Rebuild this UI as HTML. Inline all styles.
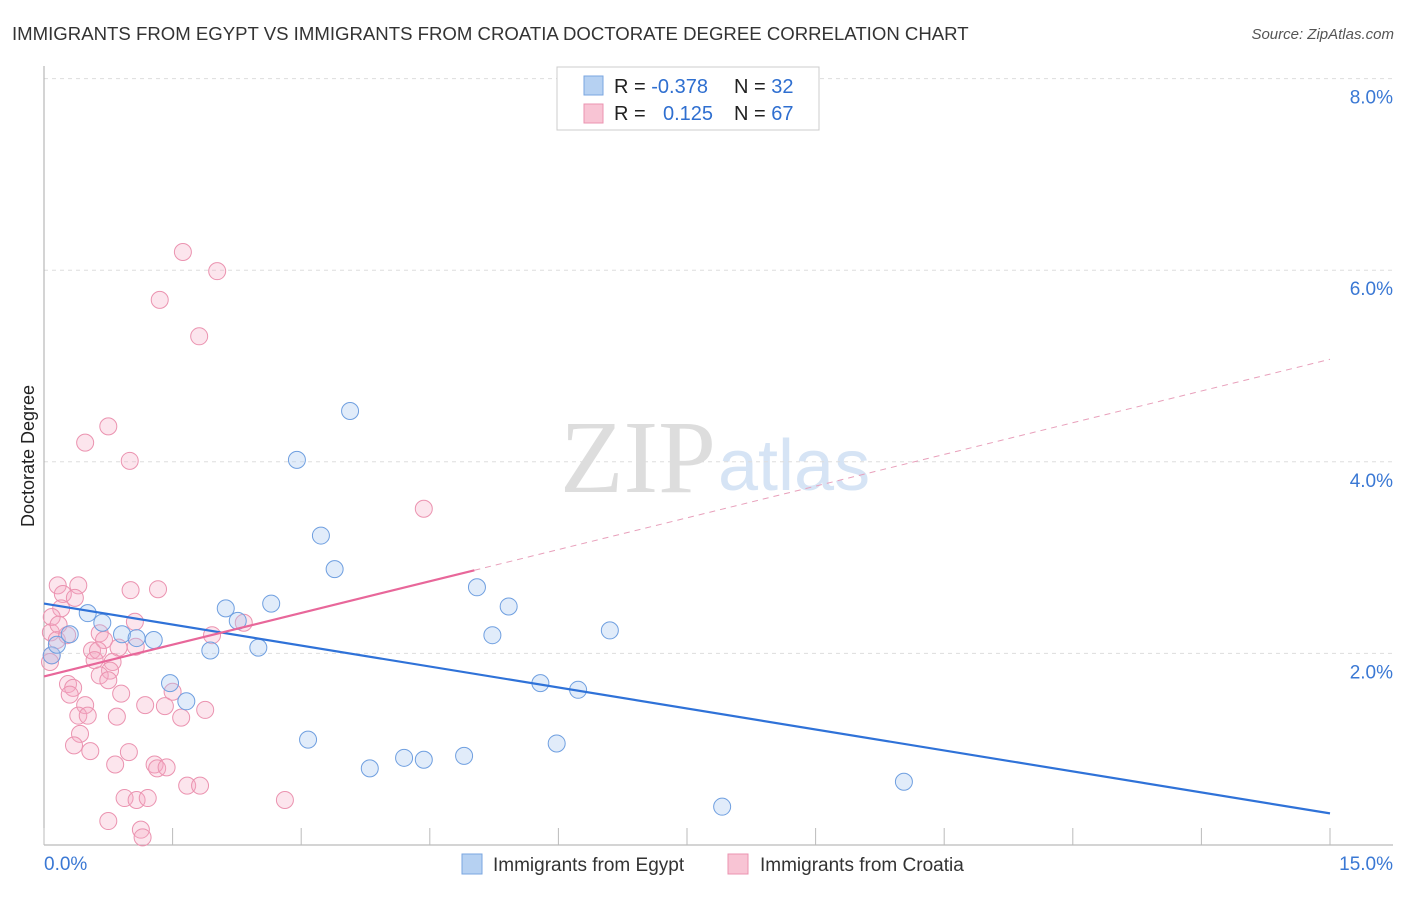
<!DOCTYPE html>
<html><head><meta charset="utf-8"><style>
body{margin:0;background:#fff;font-family:"Liberation Sans",sans-serif}
svg text{font-family:"Liberation Sans",sans-serif}
</style></head><body>
<svg id="c" width="1406" height="892">
<text x="12" y="40" font-size="18.6" fill="#333">IMMIGRANTS FROM EGYPT VS IMMIGRANTS FROM CROATIA DOCTORATE DEGREE CORRELATION CHART</text>
<text x="1394" y="39" font-size="15" fill="#555" font-style="italic" text-anchor="end">Source: ZipAtlas.com</text>
<text x="716" y="492" font-size="104" fill="#ddd" text-anchor="end" style="font-family:'Liberation Serif',serif">ZIP</text>
<text x="718" y="490" font-size="72" fill="#d6e4f5">atlas</text>
<g id="grid"></g>
<g id="marks"></g>
<text transform="translate(34,456) rotate(-90)" font-size="18" fill="#222" text-anchor="middle">Doctorate Degree</text>
<g>
<rect x="557" y="67" width="262" height="63" fill="#fff" stroke="#ccc"/>
<rect x="584" y="76" width="19" height="19" fill="#b6d1f2" stroke="#7aa6e0"/>
<rect x="584" y="104" width="19" height="19" fill="#f8c4d4" stroke="#eb93b0"/>
<text x="614" y="93" font-size="20" fill="#222">R = <tspan fill="#2f6fd0">-0.378</tspan></text>
<text x="734" y="93" font-size="20" fill="#222">N = <tspan fill="#2f6fd0">32</tspan></text>
<text x="614" y="120" font-size="20" fill="#222">R = <tspan fill="#2f6fd0" x="663">0.125</tspan></text>
<text x="734" y="120" font-size="20" fill="#222">N = <tspan fill="#2f6fd0">67</tspan></text>
</g>
<g>
<rect x="462" y="854" width="20" height="20" fill="#b6d1f2" stroke="#7aa6e0"/>
<text x="493" y="871" font-size="19" fill="#333">Immigrants from Egypt</text>
<rect x="728" y="854" width="20" height="20" fill="#f8c4d4" stroke="#eb93b0"/>
<text x="760" y="871" font-size="19" fill="#333">Immigrants from Croatia</text>
</g>
</svg>
<script>
const xTicks=[0,1.5,3,4.5,6,7.5,9,10.5,12,13.5,15];
const yTicks=[2,4,6,8];
const yTickLabels=["2.0%","4.0%","6.0%","8.0%"];
const egyptX=[0.09,0.15,0.30,0.51,0.68,0.91,1.08,1.28,1.47,1.66,1.94,2.12,2.26,2.50,2.65,2.95,3.08,3.23,3.39,3.57,3.80,4.20,4.43,4.90,5.05,5.23,5.42,5.79,5.98,6.23,6.60,7.91,10.03];
const egyptY=[1.98,2.09,2.20,2.42,2.32,2.20,2.16,2.14,1.69,1.50,2.03,2.47,2.34,2.06,2.52,4.02,1.10,3.23,2.88,4.53,0.80,0.91,0.89,0.93,2.69,2.19,2.49,1.69,1.06,1.62,2.24,0.40,0.66];
const croatiaX=[0.16,0.40,0.22,0.20,0.09,0.08,0.15,0.27,0.09,0.07,0.17,1.01,1.06,0.65,0.70,0.56,0.63,0.87,0.59,0.80,0.77,0.65,0.75,0.28,0.34,0.30,0.48,0.40,0.51,0.85,0.42,0.35,0.54,0.90,0.99,0.83,1.18,1.50,1.41,1.60,1.88,1.96,2.33,1.07,1.29,1.32,1.43,0.94,1.08,1.21,0.75,1.13,1.15,1.67,1.82,2.81,1.62,2.02,1.35,1.81,0.75,0.48,1.00,4.43,1.33,0.36];
const croatiaY=[2.71,2.71,2.62,2.47,2.38,2.22,2.14,2.19,1.98,1.91,2.30,2.66,2.33,2.21,2.14,2.03,2.03,2.06,1.93,1.91,1.82,1.77,1.72,1.68,1.64,1.57,1.46,1.35,1.35,1.34,1.16,1.04,0.98,1.58,0.97,0.84,1.46,1.60,1.45,1.33,1.41,2.19,2.32,2.07,0.84,0.80,0.81,0.49,0.47,0.49,0.25,0.16,0.08,0.62,0.62,0.47,6.19,5.99,5.69,5.31,4.37,4.20,4.01,3.51,2.67,2.58];
const egyptTrend=[2.52,0.33];
const croatiaTrend=[1.76,5.07];
const croatiaSolidEnd=5.02;
const NS="http://www.w3.org/2000/svg";
const X=v=>44+v*(1286/15), Y=v=>845-v*95.8;
function mk(t,a,p){const e=document.createElementNS(NS,t);for(const k in a)e.setAttribute(k,a[k]);p.appendChild(e);return e;}
const g=document.getElementById('grid'), m=document.getElementById('marks');
yTicks.forEach((t,i)=>{
 const l=mk('line',{x1:44,x2:1393,y1:Y(t),y2:Y(t),stroke:'#ddd','stroke-dasharray':'4,4'},g);
 
 
 const tx=mk('text',{x:1393,y:Y(t)+25,'font-size':19,fill:'#3a78d4','text-anchor':'end'},g);
 tx.textContent=yTickLabels[i];
 
 
});
const ax=mk('line',{x1:44,x2:1393,y1:845,y2:845,stroke:'#aaa'},g);


const ay=mk('line',{x1:44,x2:44,y1:66,y2:845,stroke:'#aaa'},g);


xTicks.forEach(t=>{
 const l=mk('line',{x1:X(t),x2:X(t),y1:828,y2:845,stroke:'#bbb'},g);
 
 
});
[[0,"0.0%",'start',44],[15,"15.0%",'end',1393]].forEach(d=>{
 const tx=mk('text',{x:d[3],y:870,'font-size':19,fill:'#3a78d4','text-anchor':d[2]},g);
 tx.textContent=d[1];
 
 
});
croatiaX.forEach((v,i)=>{
 const c=mk('circle',{cx:X(v),cy:Y(croatiaY[i]),r:8.5,fill:'rgba(244,170,195,0.3)',stroke:'#eb93b0','stroke-width':1},m);
 
 
});
egyptX.forEach((v,i)=>{
 const c=mk('circle',{cx:X(v),cy:Y(egyptY[i]),r:8.5,fill:'rgba(170,200,240,0.35)',stroke:'#6f9fe0','stroke-width':1},m);
 
 
});
const bl=mk('line',{x1:X(0),y1:Y(egyptTrend[0]),x2:X(15),y2:Y(egyptTrend[1]),stroke:'#2f72d8','stroke-width':2.2},m);


const pAt=v=>croatiaTrend[0]+(croatiaTrend[1]-croatiaTrend[0])*v/15;
const pl=mk('line',{x1:X(0),y1:Y(pAt(0)),x2:X(croatiaSolidEnd),y2:Y(pAt(croatiaSolidEnd)),stroke:'#e8679a','stroke-width':2.2},m);


const pd=mk('line',{x1:X(croatiaSolidEnd),y1:Y(pAt(croatiaSolidEnd)),x2:X(15),y2:Y(pAt(15)),stroke:'#e8a0bb','stroke-width':1,'stroke-dasharray':'6,5'},m);


</script>
</body></html>
